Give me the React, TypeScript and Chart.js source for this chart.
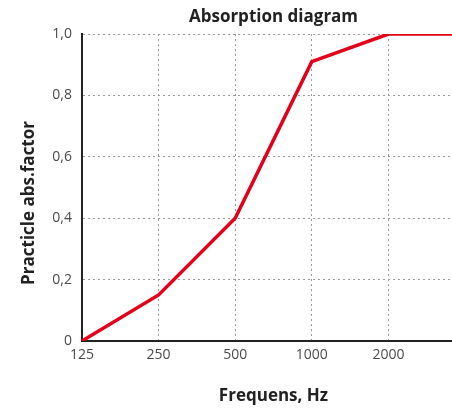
import React, { useEffect, useRef } from "react";
import { Chart, registerables } from "chart.js";

Chart.register(...registerables);

const categories = ["125", "250", "500", "1000", "2000", "4000"];
const absorption = [0, 0.15, 0.4, 0.91, 1.0, 1.0];
const yTicks = [0, 0.2, 0.4, 0.6, 0.8, 1.0];
const titleText = "Absorption diagram";
const xTitle = "Frequens, Hz";
const yTitle = "Practicle abs.factor\u00a0\u00a0\u00a0\u00a0\u00a0\u00a0\u00a0";

const FONT = "'Open Sans', 'DejaVu Sans', sans-serif";

export default function App() {
  const ref = useRef<HTMLCanvasElement | null>(null);

  useEffect(() => {
    if (!ref.current) return;
    const chart = new Chart(ref.current, {
      type: "line",
      data: {
        labels: categories,
        datasets: [
          {
            data: absorption,
            borderColor: "#e2001a",
            backgroundColor: "#e2001a",
            borderWidth: 3.5,
            pointRadius: 0,
            tension: 0,
            fill: false,
          },
        ],
      },
      options: {
        animation: false,
        responsive: false,
        layout: { padding: { left: 0, right: 10, top: 0, bottom: 0 } },
        plugins: {
          legend: { display: false },
          tooltip: { enabled: false },
          title: {
            display: true,
            text: titleText,
            fullSize: false,
            color: "#222",
            font: { family: FONT, size: 17, weight: "bold" },
            padding: { top: 7.4, bottom: 6.2 },
          },
        },
        scales: {
          x: {
            type: "category",
            offset: false,
            afterFit: (scale: any) => {
              scale.height = 73;
            },
            border: { display: true, color: "#222", width: 2, dash: [2, 3] },
            grid: {
              display: true,
              drawTicks: false,
              color: "#9a9a9a",
              lineWidth: 1,
            },
            ticks: {
              autoSkip: false,
              maxRotation: 0,
              padding: 6,
              color: "#4a4a4a",
              font: { family: FONT, size: 14 },
              callback: (_v: any, i: number) =>
                i === categories.length - 1 ? "" : categories[i],
            },
            title: {
              display: true,
              text: xTitle,
              color: "#222",
              font: { family: FONT, size: 17, weight: "bold" },
              padding: { top: 0, bottom: 7.8 },
            },
          },
          y: {
            min: 0,
            max: 1,
            afterFit: (scale: any) => {
              scale.width = 82;
            },
            afterBuildTicks: (scale: any) => {
              scale.ticks = yTicks.map((v) => ({ value: v }));
            },
            border: { display: true, color: "#222", width: 2, dash: [2, 3] },
            grid: {
              display: true,
              drawTicks: false,
              color: "#9a9a9a",
              lineWidth: 1,
            },
            ticks: {
              padding: 10,
              color: "#4a4a4a",
              font: { family: FONT, size: 14 },
              callback: (v: any) =>
                Number(v) === 0 ? "0" : Number(v).toFixed(1).replace(".", ","),
            },
            title: {
              display: true,
              text: yTitle,
              color: "#222",
              font: { family: FONT, size: 17, weight: "bold" },
              padding: { top: 18.8, bottom: 0 },
            },
          },
        },
      },
    });
    return () => chart.destroy();
  }, []);

  return (
    <div
      style={{
        position: "fixed",
        left: 0,
        top: 0,
        width: 452,
        height: 414,
        overflow: "hidden",
        background: "#fff",
      }}
    >
      <canvas ref={ref} width={475} height={414} style={{ display: "block" }} />
    </div>
  );
}
